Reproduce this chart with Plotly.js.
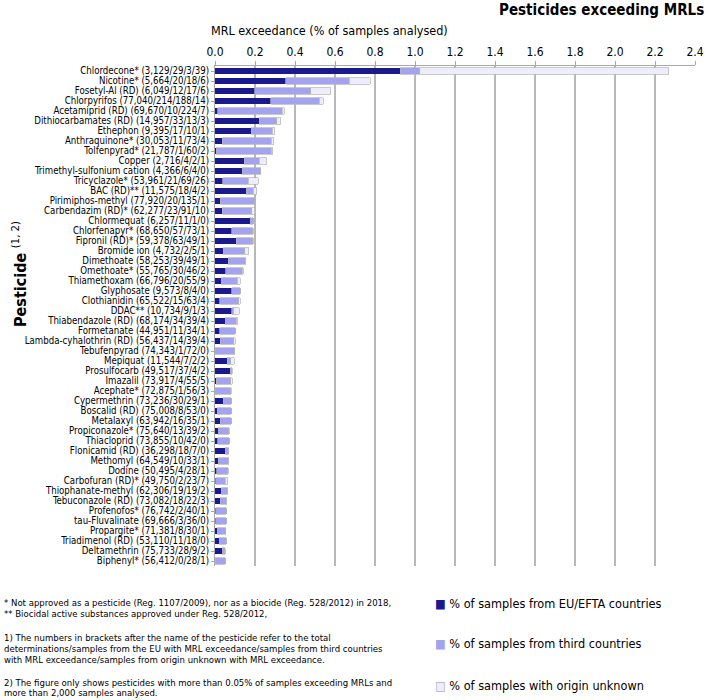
<!DOCTYPE html>
<html>
<head>
<meta charset="utf-8">
<script src="https://cdn.plot.ly/plotly-3.0.1.min.js"></script>
<style>html,body{margin:0;padding:0;background:#fff;}#chart{width:709px;height:700px;}</style>
</head>
<body>
<div id="chart"></div>
<script>
const pesticides = [
  "Chlordecone* (3,129/29/3/39)", "Nicotine* (5,664/20/18/6)", "Fosetyl-Al (RD) (6,049/12/17/6)",
  "Chlorpyrifos (77,040/214/188/14)", "Acetamiprid (RD) (69,670/10/224/7)", "Dithiocarbamates (RD) (14,957/33/13/3)",
  "Ethephon (9,395/17/10/1)", "Anthraquinone* (30,053/11/73/4)", "Tolfenpyrad* (21,787/1/60/2)",
  "Copper (2,716/4/2/1)", "Trimethyl-sulfonium cation (4,366/6/4/0)", "Tricyclazole* (53,961/21/69/26)",
  "BAC (RD)** (11,575/18/4/2)", "Pirimiphos-methyl (77,920/20/135/1)", "Carbendazim (RD)* (62,277/23/91/10)",
  "Chlormequat (6,257/11/1/0)", "Chlorfenapyr* (68,650/57/73/1)", "Fipronil (RD)* (59,378/63/49/1)",
  "Bromide ion (4,732/2/5/1)", "Dimethoate (58,253/39/49/1)", "Omethoate* (55,765/30/46/2)",
  "Thiamethoxam (66,796/20/55/9)", "Glyphosate (9,573/8/4/0)", "Clothianidin (65,522/15/63/4)",
  "DDAC** (10,734/9/1/3)", "Thiabendazole (RD) (68,174/34/39/4)", "Formetanate (44,951/11/34/1)",
  "Lambda-cyhalothrin (RD) (56,437/14/39/4)", "Tebufenpyrad (74,343/1/72/0)", "Mepiquat (11,544/7/2/2)",
  "Prosulfocarb (49,517/37/4/2)", "Imazalil (73,917/4/55/5)", "Acephate* (72,875/1/56/3)",
  "Cypermethrin (73,236/30/29/1)", "Boscalid (RD) (75,008/8/53/0)", "Metalaxyl (63,942/16/35/1)",
  "Propiconazole* (75,640/13/39/2)", "Thiacloprid (73,855/10/42/0)", "Flonicamid (RD) (36,298/18/7/0)",
  "Methomyl (64,549/10/33/1)", "Dodine (50,495/4/28/1)", "Carbofuran (RD)* (49,750/2/23/7)",
  "Thiophanate-methyl (62,306/19/19/2)", "Tebuconazole (RD) (73,082/18/22/3)", "Profenofos* (76,742/2/40/1)",
  "tau-Fluvalinate (69,666/3/36/0)", "Propargite* (71,381/8/30/1)", "Triadimenol (RD) (53,110/11/18/0)",
  "Deltamethrin (75,733/28/9/2)", "Biphenyl* (56,412/0/28/1)"
];
const euEfta = [0.927, 0.353, 0.198, 0.278, 0.014, 0.221, 0.181, 0.037, 0.005, 0.147,
  0.137, 0.039, 0.156, 0.026, 0.037, 0.176, 0.083, 0.106, 0.042, 0.067,
  0.054, 0.030, 0.084, 0.023, 0.084, 0.050, 0.024, 0.025, 0.001, 0.061,
  0.075, 0.005, 0.001, 0.041, 0.011, 0.025, 0.017, 0.014, 0.050, 0.015,
  0.008, 0.004, 0.030, 0.025, 0.003, 0.004, 0.011, 0.021, 0.037, 0.000];
const thirdCountries = [0.096, 0.318, 0.281, 0.244, 0.322, 0.087, 0.106, 0.243, 0.275, 0.074,
  0.092, 0.128, 0.035, 0.173, 0.146, 0.016, 0.106, 0.083, 0.106, 0.084,
  0.082, 0.082, 0.042, 0.096, 0.009, 0.057, 0.076, 0.069, 0.097, 0.017,
  0.008, 0.074, 0.077, 0.040, 0.071, 0.055, 0.052, 0.057, 0.019, 0.051,
  0.055, 0.046, 0.030, 0.030, 0.052, 0.052, 0.042, 0.034, 0.012, 0.050];
const originUnknown = [1.246, 0.106, 0.099, 0.018, 0.010, 0.020, 0.011, 0.013, 0.009, 0.037,
  0.000, 0.048, 0.017, 0.001, 0.016, 0.000, 0.001, 0.002, 0.021, 0.002,
  0.004, 0.013, 0.000, 0.006, 0.028, 0.006, 0.002, 0.007, 0.000, 0.017,
  0.004, 0.007, 0.004, 0.001, 0.000, 0.002, 0.003, 0.000, 0.000, 0.002,
  0.002, 0.014, 0.003, 0.004, 0.001, 0.000, 0.001, 0.000, 0.003, 0.002];
const seriesNames = ["% of samples from EU/EFTA countries", "% of samples from third countries", "% of samples with origin unknown"];
const xTicks = [0, 0.2, 0.4, 0.6, 0.8, 1.0, 1.2, 1.4, 1.6, 1.8, 2.0, 2.2, 2.4];
const footnotes = [
  "* Not approved as a pesticide (Reg. 1107/2009), nor as a biocide (Reg. 528/2012) in 2018,",
  "** Biocidal active substances approved under Reg. 528/2012,",
  "1) The numbers in brackets after the name of the pesticide refer to the total",
  "determinations/samples from the EU with MRL exceedance/samples from third countries",
  "with MRL exceedance/samples from origin unknown with MRL exceedance.",
  "2) The figure only shows pesticides with more than 0.05% of samples exceeding MRLs and",
  "more than 2,000 samples analysed."
];

const colors = ['#1a1a8c', '#a3a3ef', '#ededfb'];
const FONT = 'DejaVu Sans Condensed, DejaVu Sans, sans-serif';
const W = 709, H = 700, L = 215, R = 14, T = 66, B = 134;
const pw = W - L - R, ph = H - T - B;
const px = x => (x - L) / pw;
const py = y => (H - B - y) / ph;

const values = [euEfta, thirdCountries, originUnknown];
const traces = values.map((v, i) => ({
  type: 'bar', orientation: 'h', y: pesticides, x: v, name: seriesNames[i],
  marker: {color: colors[i], line: {color: '#b4b4b4', width: i === 0 ? 0 : 0.7}},
  showlegend: false, hoverinfo: 'skip'
}));

const ann = [];
ann.push({xref: 'paper', yref: 'paper', x: px(706), y: py(10), xanchor: 'right', yanchor: 'middle',
  text: '<b>Pesticides exceeding MRLs</b>', showarrow: false, font: {family: FONT, size: 15, color: '#000'}});
ann.push({xref: 'paper', yref: 'paper', x: px(209), y: py(31), xanchor: 'left', yanchor: 'middle',
  text: 'MRL exceedance (% of samples analysed)', showarrow: false, font: {family: FONT, size: 12.5, color: '#000'}});
ann.push({xref: 'paper', yref: 'paper', x: px(19), y: py(274), xanchor: 'center', yanchor: 'middle', textangle: -90,
  text: '<b>Pesticide</b> <sup>(1, 2)</sup>', showarrow: false, font: {family: FONT, size: 16, color: '#000'}});

const foot = {family: FONT, size: 9.5, color: '#000'};
const footY = [602, 613, 637, 648, 659, 682, 692];
footnotes.forEach((t, i) => {
  ann.push({xref: 'paper', yref: 'paper', x: px(2), y: py(footY[i]), xanchor: 'left', yanchor: 'middle',
    align: 'left', showarrow: false, font: foot, text: t});
});

const legY = [603, 643, 685];
const legFont = {family: FONT, size: 12.6, color: '#000'};
seriesNames.forEach((n, i) => {
  ann.push({xref: 'paper', yref: 'paper', x: px(433), y: py(legY[i]), xanchor: 'left', yanchor: 'middle', showarrow: false,
    font: legFont, text: '<span style="color:' + colors[i] + '">■</span> ' + n});
});
ann.push({xref: 'paper', yref: 'paper', x: px(433), y: py(legY[2]), xanchor: 'left', yanchor: 'middle', showarrow: false,
  font: {family: FONT, size: 12.6, color: '#b4b4b4'}, text: '□'});

const layout = {
  width: W, height: H, margin: {l: L, r: R, t: T, b: B, pad: 0},
  paper_bgcolor: '#fff', plot_bgcolor: '#fff',
  barmode: 'stack', bargap: 0.38, showlegend: false,
  font: {family: FONT, size: 10, color: '#000'},
  xaxis: {side: 'top', range: [0, 2.4], tickvals: xTicks, tickformat: '.1f', showgrid: true,
    gridcolor: '#b8b8b8', gridwidth: 1.5, showline: true, linecolor: '#a8a8a8', linewidth: 1,
    ticks: 'outside', ticklen: 4, tickcolor: '#a8a8a8', zeroline: false,
    tickfont: {family: FONT, size: 12, color: '#000'}, fixedrange: true},
  yaxis: {type: 'category', autorange: 'reversed', tickmode: 'array', tickvals: pesticides, ticktext: pesticides,
    showline: true, linecolor: '#a8a8a8', linewidth: 1,
    ticks: 'outside', ticklen: 3, tickcolor: '#a8a8a8', showgrid: false, zeroline: false,
    tickfont: {family: FONT, size: 9.6, color: '#000'}, fixedrange: true},
  annotations: ann
};

Plotly.newPlot('chart', traces, layout, {staticPlot: true, displayModeBar: false});
</script>
</body>
</html>
